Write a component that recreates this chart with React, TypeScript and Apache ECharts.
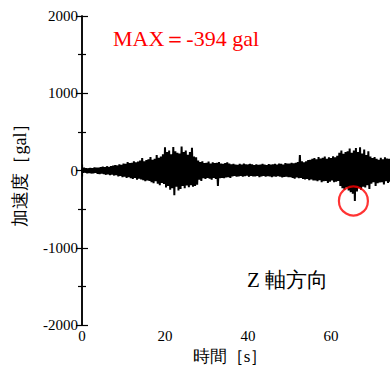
import React, { useEffect, useRef } from "react";
import * as echarts from "echarts";

// sampling interval of the record [s]
const DT = 0.25;

// acceleration [gal] (sample every 0.25 s, 0–80 s)
const accel: number[] = [
  25, -30, 35, -28, 30, -35, 28, -32,
  32, -38, 30, -35, 40, -30, 35, -42,
  38, -45, 42, -40, 50, -48, 45, -55,
  55, -50, 48, -60, 58, -52, 62, -65,
  70, -60, 65, -75, 80, -70, 72, -85,
  90, -80, 85, -95, 110, -85, 95, -100,
  100, -110, 120, -95, 105, -120, 115, -105,
  130, -115, 160, -125, 120, -140, 135, -130,
  145, -135, 175, -150, 140, -165, 150, -140,
  200, -170, 165, -190, 180, -160, 210, -175,
  300, -220, 240, -200, 260, -250, 210, -230,
  305, -320, 250, -210, 230, -260, 220, -240,
  310, -200, 240, -230, 260, -195, 205, -215,
  240, -190, 295, -210, 180, -200, 170, -185,
  130, -120, 110, -135, 120, -100, 95, -110,
  100, -95, 115, -105, 90, -120, 105, -95,
  95, -110, 100, -200, 110, -100, 90, -95,
  85, -100, 95, -90, 105, -85, 90, -95,
  80, -75, 85, -70, 78, -80, 72, -75,
  85, -70, 75, -80, 90, -72, 80, -68,
  75, -80, 85, -70, 80, -75, 70, -78,
  80, -70, 72, -85, 78, -75, 85, -70,
  75, -80, 70, -72, 82, -78, 76, -85,
  80, -75, 85, -80, 78, -72, 90, -80,
  85, -90, 78, -82, 95, -80, 88, -85,
  90, -85, 100, -95, 92, -105, 98, -90,
  110, -100, 200, -95, 120, -110, 105, -115,
  120, -110, 135, -125, 140, -115, 150, -130,
  160, -130, 145, -140, 175, -125, 155, -150,
  165, -140, 180, -135, 150, -160, 170, -145,
  160, -130, 185, -150, 170, -145, 190, -135,
  230, -200, 260, -230, 215, -250, 240, -220,
  250, -260, 285, -280, 230, -300, 260, -394,
  290, -270, 240, -230, 300, -250, 220, -210,
  270, -220, 200, -190, 250, -240, 180, -170,
  160, -150, 175, -200, 150, -165, 140, -155,
  165, -150, 145, -180, 170, -140, 155, -160,
  150, -145, 140, -160, 155, -135, 145, -150,
  130, -140, 145, -125, 135, -130, 120, -135,
  125, -120, 130, -115, 110, -125, 120, -110,
];

// marked peak [time s, gal]
const peakPoint: [number, number] = [65.4, -394];
const peakLabel = "MAX＝-394 gal";
const directionLabel = "Z 軸方向";

const xRange = [0, 80];
const xStep = 20;
const yRange = [-2000, 2000];
const yStep = 1000;
const xTitle = "時間［s］";
const yTitle = "加速度［gal］";

const SERIF = "Times New Roman";

export default function App() {
  const ref = useRef<HTMLDivElement>(null);

  useEffect(() => {
    if (!ref.current) return;
    const chart = echarts.init(ref.current, null, { renderer: "svg", width: 414, height: 369 });
    const lineData = accel.map((v, i) => [i * DT, v]);

    const axisLine = { show: true, lineStyle: { color: "#000", width: 1.5 } };
    const tickStyle = { color: "#000", width: 1.2 };
    const common = {
      type: "value" as const,
      axisLine,
      axisTick: { show: true, inside: true, length: 6, lineStyle: tickStyle },
      minorTick: { show: true, splitNumber: 2, length: 4, lineStyle: tickStyle },
      splitLine: { show: false },
      minorSplitLine: { show: false },
    };
    const labelStyle = {
      show: true,
      color: "#000",
      fontFamily: SERIF,
      fontSize: 15,
      formatter: (v: number) => String(v),
    };

    chart.setOption({
      animation: false,
      backgroundColor: "#fff",
      grid: { left: 82, top: 16, bottom: 44, right: 0, containLabel: false, outerBoundsMode: "none" },
      xAxis: [
        {
          ...common,
          min: xRange[0],
          max: xRange[1],
          interval: xStep,
          position: "bottom",
          axisLabel: { ...labelStyle, margin: 3, showMaxLabel: false },
          name: xTitle,
          nameLocation: "middle",
          nameGap: 22,
          nameTextStyle: { color: "#000", fontFamily: SERIF, fontSize: 17, padding: [0, 36, 0, 0] },
        },
        { ...common, min: xRange[0], max: xRange[1], interval: xStep, position: "top", axisLabel: { show: false } },
      ],
      yAxis: [
        {
          ...common,
          min: yRange[0],
          max: yRange[1],
          interval: yStep,
          position: "left",
          axisLabel: { ...labelStyle, margin: 4 },
          name: yTitle,
          nameLocation: "middle",
          nameGap: 53,
          nameRotate: 90,
          nameTextStyle: { color: "#000", fontFamily: SERIF, fontSize: 18 },
        },
        { ...common, min: yRange[0], max: yRange[1], interval: yStep, position: "right", axisLabel: { show: false } },
      ],
      graphic: [
        {
          type: "text",
          left: 113,
          top: 27,
          style: { text: peakLabel, fill: "#ff0000", fontFamily: SERIF, fontSize: 22 },
        },
        {
          type: "text",
          left: 247,
          top: 269,
          style: { text: directionLabel, fill: "#000", fontFamily: SERIF, fontSize: 21 },
        },
      ],
      series: [
        {
          type: "line",
          data: lineData,
          showSymbol: false,
          symbol: "none",
          lineStyle: { color: "#000", width: 2 },
          clip: true,
          silent: true,
        },
        {
          type: "scatter",
          data: [peakPoint],
          symbol: "circle",
          symbolSize: 29,
          itemStyle: { color: "rgba(0,0,0,0)", borderColor: "#ff0000", borderWidth: 2.2 },
          silent: true,
          z: 5,
        },
      ],
    });
    return () => chart.dispose();
  }, []);

  return (
    <div style={{ position: "fixed", left: 0, top: 0, width: 390, height: 369, overflow: "hidden", background: "#fff" }}>
      <div ref={ref} style={{ position: "absolute", left: 0, top: 0, width: 414, height: 369 }} />
    </div>
  );
}
